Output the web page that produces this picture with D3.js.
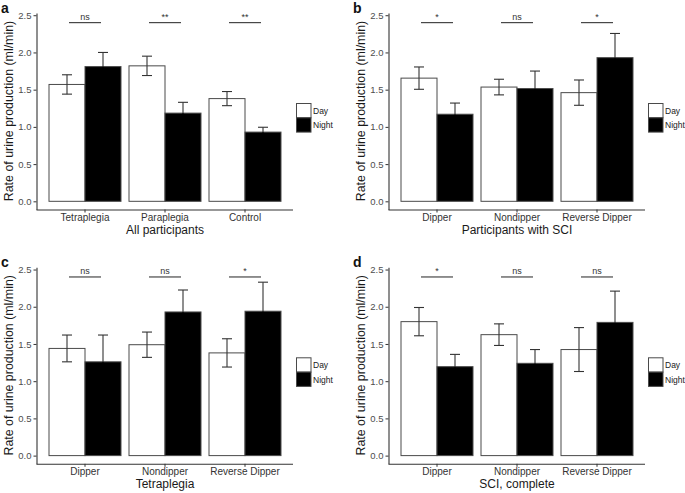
<!DOCTYPE html>
<html>
<head>
<meta charset="utf-8">
<script src="https://cdn.jsdelivr.net/npm/d3@7"></script>
<style>
  body { margin: 0; background: #fff; }
  svg { font-family: "Liberation Sans", Arial, sans-serif; }
</style>
</head>
<body>
<div class="chart-container"></div>
<script>
// data
const groupsAll = ['Tetraplegia', 'Paraplegia', 'Control'];
const groupsDip = ['Dipper', 'Nondipper', 'Reverse Dipper'];
const series = ['Day', 'Night'];
const yTicks = [0, 0.5, 1.0, 1.5, 2.0, 2.5];

const dayA = [1.57, 1.82, 1.38];
const dayErrA = [0.13, 0.13, 0.095];
const nightA = [1.81, 1.185, 0.93];
const nightErrA = [0.19, 0.145, 0.065];
const sigA = ['ns', '**', '**'];

const dayB = [1.655, 1.535, 1.46];
const dayErrB = [0.15, 0.105, 0.17];
const nightB = [1.17, 1.515, 1.93];
const nightErrB = [0.15, 0.235, 0.325];
const sigB = ['*', 'ns', '*'];

const dayC = [1.44, 1.49, 1.38];
const dayErrC = [0.18, 0.17, 0.19];
const nightC = [1.26, 1.93, 1.94];
const nightErrC = [0.36, 0.295, 0.39];
const sigC = ['ns', 'ns', '*'];

const dayD = [1.80, 1.625, 1.425];
const dayErrD = [0.19, 0.145, 0.295];
const nightD = [1.195, 1.24, 1.79];
const nightErrD = [0.165, 0.185, 0.42];
const sigD = ['*', 'ns', 'ns'];

const sigLevel = 2.4;

const svg = d3.select('.chart-container')
  .append('svg')
  .attr('width', 685)
  .attr('height', 493);

function drawPanel(opt) {
  const g = svg.append('g')
    .attr('transform', `translate(${opt.dx},${opt.dy})`);

  const xScale = d3.scaleBand()
    .domain(opt.groups)
    .range([37, 293])
    .paddingInner(0.1)
    .paddingOuter(0.15);
  const subScale = d3.scaleBand()
    .domain(series)
    .range([0, xScale.bandwidth()]);
  const yScale = d3.scaleLinear()
    .domain([-0.11, 2.53])
    .range([209.5, 13]);

  const rows = [];
  opt.groups.forEach((grp, i) => {
    rows.push({ grp, s: 'Day', v: opt.day[i], e: opt.dayErr[i] });
    rows.push({ grp, s: 'Night', v: opt.night[i], e: opt.nightErr[i] });
  });

  // bars
  g.selectAll('.bar')
    .data(rows)
    .join('rect')
    .attr('class', 'bar')
    .attr('x', d => xScale(d.grp) + subScale(d.s))
    .attr('y', d => yScale(d.v))
    .attr('width', subScale.bandwidth())
    .attr('height', d => yScale(0) - yScale(d.v))
    .attr('fill', d => d.s === 'Day' ? '#fff' : '#000')
    .attr('stroke', '#4a4a4a')
    .attr('stroke-width', 1);

  // error bars (lower half of the night ones sits on black, so it is black)
  const eb = g.selectAll('.err')
    .data(rows)
    .join('g')
    .attr('class', 'err')
    .attr('transform', d => `translate(${xScale(d.grp) + subScale(d.s) + subScale.bandwidth() / 2},0)`)
    .attr('stroke-width', 1.1);
  eb.append('line')
    .attr('stroke', '#333')
    .attr('x1', 0).attr('x2', 0)
    .attr('y1', d => yScale(d.v))
    .attr('y2', d => yScale(d.v + d.e));
  eb.append('line')
    .attr('stroke', d => d.s === 'Day' ? '#333' : '#000')
    .attr('x1', 0).attr('x2', 0)
    .attr('y1', d => yScale(d.v - d.e))
    .attr('y2', d => yScale(d.v));
  eb.append('line')
    .attr('stroke', '#333')
    .attr('x1', -5).attr('x2', 5)
    .attr('y1', d => yScale(d.v + d.e))
    .attr('y2', d => yScale(d.v + d.e));
  eb.append('line')
    .attr('stroke', d => d.s === 'Day' ? '#333' : '#000')
    .attr('x1', -5).attr('x2', 5)
    .attr('y1', d => yScale(d.v - d.e))
    .attr('y2', d => yScale(d.v - d.e));

  // significance brackets
  const sig = g.selectAll('.sig')
    .data(opt.groups)
    .join('g')
    .attr('class', 'sig');
  sig.append('line')
    .attr('x1', d => xScale(d) + xScale.bandwidth() / 2 - 16)
    .attr('x2', d => xScale(d) + xScale.bandwidth() / 2 + 16)
    .attr('y1', yScale(sigLevel))
    .attr('y2', yScale(sigLevel))
    .attr('stroke', '#222')
    .attr('stroke-width', 1);
  sig.append('text')
    .attr('x', d => xScale(d) + xScale.bandwidth() / 2)
    .attr('y', d => yScale(sigLevel) - 3)
    .attr('text-anchor', 'middle')
    .style('font-size', '9px')
    .style('fill', '#333')
    .text((d, i) => opt.sig[i]);

  // axes
  const yAxis = d3.axisLeft(yScale)
    .tickValues(yTicks)
    .tickFormat(d3.format('.1f'))
    .tickSizeInner(3)
    .tickSizeOuter(0)
    .tickPadding(2);
  const yAxisDraw = g.append('g')
    .attr('class', 'y axis')
    .attr('transform', 'translate(36.5,0)')
    .call(yAxis);
  const xAxis = d3.axisBottom(xScale)
    .tickSizeInner(3)
    .tickSizeOuter(0)
    .tickPadding(1);
  const xAxisDraw = g.append('g')
    .attr('class', 'x axis')
    .attr('transform', 'translate(0,209.5)')
    .call(xAxis);
  [yAxisDraw, xAxisDraw].forEach(a => {
    a.select('.domain').attr('stroke', '#333').attr('stroke-width', 1.1);
    a.selectAll('.tick line').attr('stroke', '#333');
    a.selectAll('text')
      .style('font-size', '9.5px')
      .style('fill', '#4d4d4d')
      .style('font-family', '"Liberation Sans", Arial, sans-serif');
  });
  xAxisDraw.selectAll('text').style('font-size', '10px').style('fill', '#333');
  // the x axis line runs from the y axis to the right end
  xAxisDraw.select('.domain').attr('d', 'M36.5,0.5H293');

  // titles
  g.append('text')
    .attr('x', 165)
    .attr('y', 233.5)
    .attr('text-anchor', 'middle')
    .style('font-size', '12px')
    .style('fill', '#1a1a1a')
    .text(opt.xTitle);
  g.append('text')
    .attr('transform', 'translate(13,111) rotate(-90)')
    .attr('text-anchor', 'middle')
    .style('font-size', '12.4px')
    .style('fill', '#1a1a1a')
    .text('Rate of urine production (ml/min)');
  g.append('text')
    .attr('x', 1)
    .attr('y', 13)
    .style('font-size', '14px')
    .style('font-weight', 'bold')
    .style('fill', '#111')
    .text(opt.letter);

  // legend
  const leg = g.append('g')
    .attr('transform', 'translate(296,103.5)');
  const legItem = leg.selectAll('.leg')
    .data(series)
    .join('g')
    .attr('class', 'leg')
    .attr('transform', (d, i) => `translate(0,${i * 14.3})`);
  legItem.append('rect')
    .attr('x', 0.5).attr('y', 0)
    .attr('width', 14.5).attr('height', 14.3)
    .attr('fill', d => d === 'Day' ? '#fff' : '#000')
    .attr('stroke', '#4a4a4a');
  legItem.append('text')
    .attr('x', 17)
    .attr('y', 10.5)
    .style('font-size', '8.5px')
    .style('fill', '#1a1a1a')
    .text(d => d);
}

drawPanel({ dx: 0, dy: 0, letter: 'a', groups: groupsAll, xTitle: 'All participants',
  day: dayA, dayErr: dayErrA, night: nightA, nightErr: nightErrA, sig: sigA });
drawPanel({ dx: 352, dy: 0, letter: 'b', groups: groupsDip, xTitle: 'Participants with SCI',
  day: dayB, dayErr: dayErrB, night: nightB, nightErr: nightErrB, sig: sigB });
drawPanel({ dx: 0, dy: 254.3, letter: 'c', groups: groupsDip, xTitle: 'Tetraplegia',
  day: dayC, dayErr: dayErrC, night: nightC, nightErr: nightErrC, sig: sigC });
drawPanel({ dx: 352, dy: 254.3, letter: 'd', groups: groupsDip, xTitle: 'SCI, complete',
  day: dayD, dayErr: dayErrD, night: nightD, nightErr: nightErrD, sig: sigD });
</script>
</body>
</html>
